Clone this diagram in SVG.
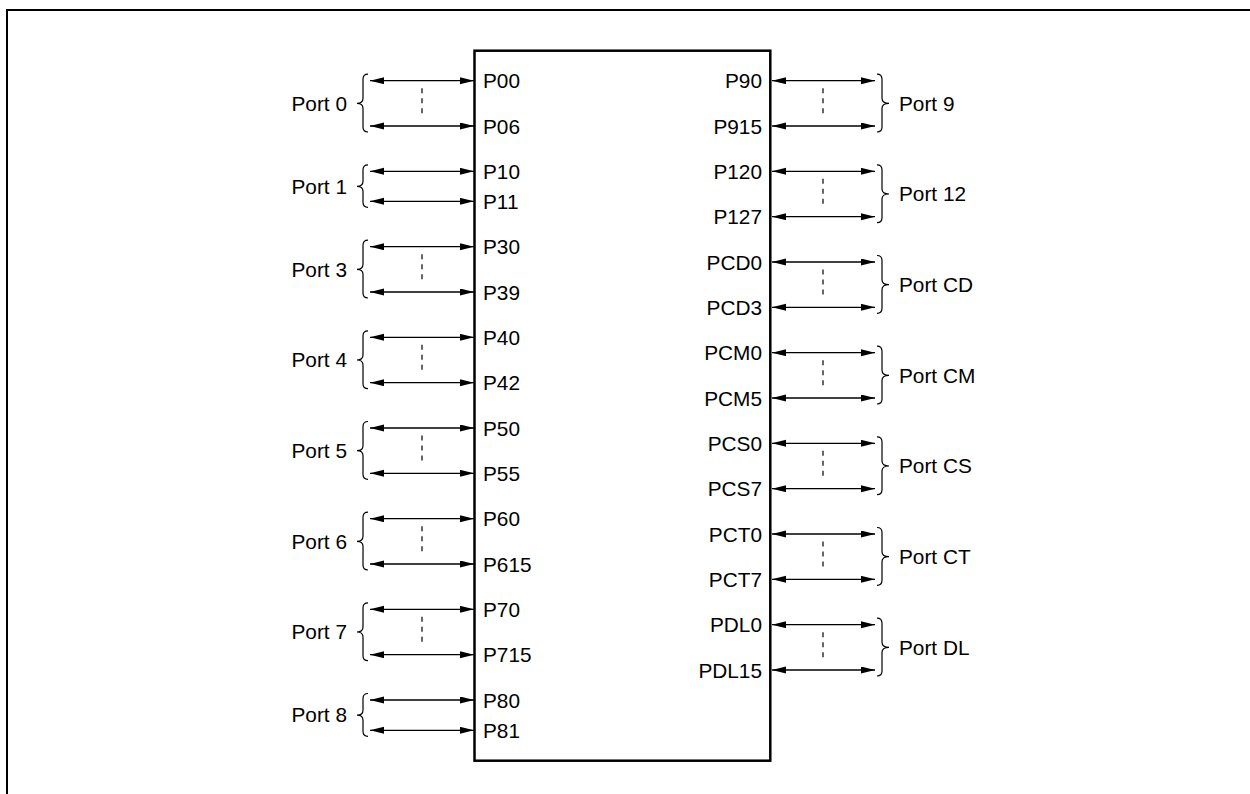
<svg xmlns="http://www.w3.org/2000/svg" width="1250" height="794" viewBox="0 0 1250 794">
<style>
text{font-family:"Liberation Sans",Arial,sans-serif;font-size:20.8px;fill:#000}
.pin{stroke:#000;stroke-width:1.3;fill:none;marker-start:url(#ah);marker-end:url(#ah)}
.br{stroke:#000;stroke-width:1.2;fill:none}
.ds{stroke:#000;stroke-width:1.2;fill:none;stroke-dasharray:5,5}
.r{text-anchor:end}
</style>
<defs>
<marker id="ah" markerUnits="userSpaceOnUse" markerWidth="16" markerHeight="8" refX="14" refY="3.5" orient="auto-start-reverse"><path d="M0,0 L14,3.5 L0,7 z" fill="#000"/></marker>
</defs>
<rect width="1250" height="794" fill="#fff"/>
<path d="M7,794 V10 H1250" fill="none" stroke="#000" stroke-width="2"/>
<g id="chip"><rect x="474.5" y="50.7" width="295.8" height="710" fill="none" stroke="#000" stroke-width="2.5"/></g>
<g id="connectors">
<line class="pin" x1="370" y1="80.7" x2="474" y2="80.7"/>
<line class="pin" x1="370" y1="126" x2="474" y2="126"/>
<line class="pin" x1="370" y1="171.3" x2="474" y2="171.3"/>
<line class="pin" x1="370" y1="201.3" x2="474" y2="201.3"/>
<line class="pin" x1="370" y1="246.7" x2="474" y2="246.7"/>
<line class="pin" x1="370" y1="292" x2="474" y2="292"/>
<line class="pin" x1="370" y1="337.3" x2="474" y2="337.3"/>
<line class="pin" x1="370" y1="382.7" x2="474" y2="382.7"/>
<line class="pin" x1="370" y1="428" x2="474" y2="428"/>
<line class="pin" x1="370" y1="473.3" x2="474" y2="473.3"/>
<line class="pin" x1="370" y1="518.7" x2="474" y2="518.7"/>
<line class="pin" x1="370" y1="564" x2="474" y2="564"/>
<line class="pin" x1="370" y1="609.3" x2="474" y2="609.3"/>
<line class="pin" x1="370" y1="654.7" x2="474" y2="654.7"/>
<line class="pin" x1="370" y1="700" x2="474" y2="700"/>
<line class="pin" x1="370" y1="730.3" x2="474" y2="730.3"/>
<line class="pin" x1="772" y1="80.7" x2="875" y2="80.7"/>
<line class="pin" x1="772" y1="126" x2="875" y2="126"/>
<line class="pin" x1="772" y1="171.3" x2="875" y2="171.3"/>
<line class="pin" x1="772" y1="216.7" x2="875" y2="216.7"/>
<line class="pin" x1="772" y1="262" x2="875" y2="262"/>
<line class="pin" x1="772" y1="307.3" x2="875" y2="307.3"/>
<line class="pin" x1="772" y1="352.7" x2="875" y2="352.7"/>
<line class="pin" x1="772" y1="398" x2="875" y2="398"/>
<line class="pin" x1="772" y1="443.3" x2="875" y2="443.3"/>
<line class="pin" x1="772" y1="488.7" x2="875" y2="488.7"/>
<line class="pin" x1="772" y1="534" x2="875" y2="534"/>
<line class="pin" x1="772" y1="579.3" x2="875" y2="579.3"/>
<line class="pin" x1="772" y1="624.7" x2="875" y2="624.7"/>
<line class="pin" x1="772" y1="670" x2="875" y2="670"/>
<path class="ds" d="M422,88.2 V115.5 M422,254.2 V281.5 M422,344.8 V372.1 M422,435.5 V462.8 M422,526.2 V553.5 M422,616.8 V644.1"/>
<path class="ds" d="M823,88.2 V115.5 M823,178.8 V206.1 M823,269.5 V296.8 M823,360.2 V387.5 M823,450.8 V478.1 M823,541.5 V568.8 M823,632.2 V659.5"/>
</g>
<g id="pins-left">
<text x="483" y="88.2">P00</text><text x="483" y="133.5">P06</text>
<text x="483" y="178.8">P10</text><text x="483" y="208.8">P11</text>
<text x="483" y="254.2">P30</text><text x="483" y="299.5">P39</text>
<text x="483" y="344.8">P40</text><text x="483" y="390.2">P42</text>
<text x="483" y="435.5">P50</text><text x="483" y="480.8">P55</text>
<text x="483" y="526.2">P60</text><text x="483" y="571.5">P615</text>
<text x="483" y="616.8">P70</text><text x="483" y="662.2">P715</text>
<text x="483" y="707.5">P80</text><text x="483" y="737.8">P81</text>
</g>
<g id="pins-right">
<text class="r" x="762" y="88.2">P90</text><text class="r" x="762" y="133.5">P915</text>
<text class="r" x="762" y="178.8">P120</text><text class="r" x="762" y="224.2">P127</text>
<text class="r" x="762" y="269.5">PCD0</text><text class="r" x="762" y="314.8">PCD3</text>
<text class="r" x="762" y="360.2">PCM0</text><text class="r" x="762" y="405.5">PCM5</text>
<text class="r" x="762" y="450.8">PCS0</text><text class="r" x="762" y="496.2">PCS7</text>
<text class="r" x="762" y="541.5">PCT0</text><text class="r" x="762" y="586.8">PCT7</text>
<text class="r" x="762" y="632.2">PDL0</text><text class="r" x="762" y="677.5">PDL15</text>
</g>
<g id="port0"><path class="br" d="M368,74.2 Q363,74.2 363,79.2 V98.3 Q363,103.3 357,103.3 Q363,103.3 363,108.3 V127 Q363,132 368,132"/><text class="r" x="347" y="110.5">Port 0</text></g>
<g id="port1"><path class="br" d="M368,164.8 Q363,164.8 363,169.8 V181.3 Q363,186.3 357,186.3 Q363,186.3 363,191.3 V202.3 Q363,207.3 368,207.3"/><text class="r" x="347" y="193.5">Port 1</text></g>
<g id="port3"><path class="br" d="M368,240.2 Q363,240.2 363,245.2 V264.3 Q363,269.3 357,269.3 Q363,269.3 363,274.3 V293 Q363,298 368,298"/><text class="r" x="347" y="276.5">Port 3</text></g>
<g id="port4"><path class="br" d="M368,330.8 Q363,330.8 363,335.8 V355 Q363,360 357,360 Q363,360 363,365 V383.7 Q363,388.7 368,388.7"/><text class="r" x="347" y="367.2">Port 4</text></g>
<g id="port5"><path class="br" d="M368,421.5 Q363,421.5 363,426.5 V445.7 Q363,450.7 357,450.7 Q363,450.7 363,455.7 V474.3 Q363,479.3 368,479.3"/><text class="r" x="347" y="457.9">Port 5</text></g>
<g id="port6"><path class="br" d="M368,512.2 Q363,512.2 363,517.2 V536.3 Q363,541.3 357,541.3 Q363,541.3 363,546.3 V565 Q363,570 368,570"/><text class="r" x="347" y="548.5">Port 6</text></g>
<g id="port7"><path class="br" d="M368,602.8 Q363,602.8 363,607.8 V627 Q363,632 357,632 Q363,632 363,637 V655.7 Q363,660.7 368,660.7"/><text class="r" x="347" y="639.2">Port 7</text></g>
<g id="port8"><path class="br" d="M368,693.5 Q363,693.5 363,698.5 V710.2 Q363,715.2 357,715.2 Q363,715.2 363,720.2 V731.3 Q363,736.3 368,736.3"/><text class="r" x="347" y="722.4">Port 8</text></g>
<g id="port9"><path class="br" d="M877,74.2 Q882,74.2 882,79.2 V98.3 Q882,103.3 889,103.3 Q882,103.3 882,108.3 V127 Q882,132 877,132"/><text x="899" y="110.5">Port 9</text></g>
<g id="port12"><path class="br" d="M877,164.8 Q882,164.8 882,169.8 V189 Q882,194 889,194 Q882,194 882,199 V217.7 Q882,222.7 877,222.7"/><text x="899" y="201.2">Port 12</text></g>
<g id="portCD"><path class="br" d="M877,255.5 Q882,255.5 882,260.5 V279.7 Q882,284.7 889,284.7 Q882,284.7 882,289.7 V308.3 Q882,313.3 877,313.3"/><text x="899" y="291.9">Port CD</text></g>
<g id="portCM"><path class="br" d="M877,346.2 Q882,346.2 882,351.2 V370.3 Q882,375.3 889,375.3 Q882,375.3 882,380.3 V399 Q882,404 877,404"/><text x="899" y="382.5">Port CM</text></g>
<g id="portCS"><path class="br" d="M877,436.8 Q882,436.8 882,441.8 V461 Q882,466 889,466 Q882,466 882,471 V489.7 Q882,494.7 877,494.7"/><text x="899" y="473.2">Port CS</text></g>
<g id="portCT"><path class="br" d="M877,527.5 Q882,527.5 882,532.5 V551.7 Q882,556.7 889,556.7 Q882,556.7 882,561.7 V580.3 Q882,585.3 877,585.3"/><text x="899" y="563.9">Port CT</text></g>
<g id="portDL"><path class="br" d="M877,618.2 Q882,618.2 882,623.2 V642.3 Q882,647.3 889,647.3 Q882,647.3 882,652.3 V671 Q882,676 877,676"/><text x="899" y="654.5">Port DL</text></g>
</svg>
